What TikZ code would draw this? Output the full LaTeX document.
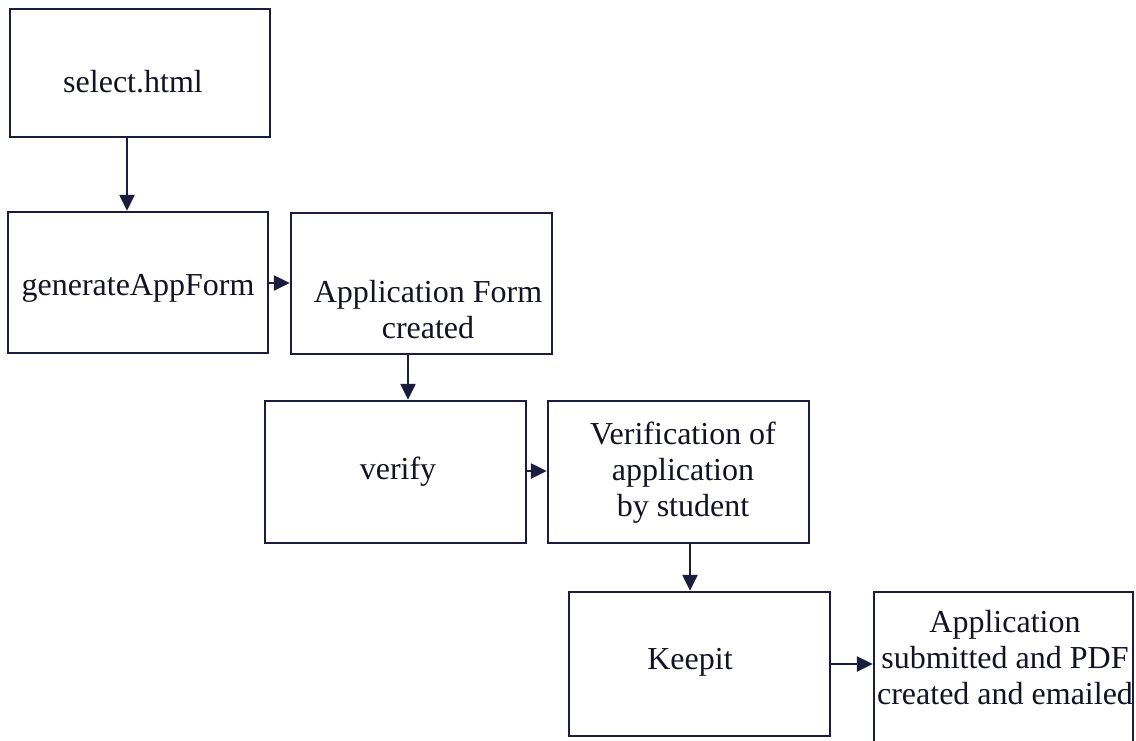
\documentclass[tikz,border=0pt]{standalone}
\usepackage{fontspec}
\setmainfont{Liberation Serif}
\usetikzlibrary{arrows.meta}
\definecolor{linecol}{RGB}{28,28,62}
\definecolor{txtcol}{RGB}{18,18,36}
\begin{document}
\begin{tikzpicture}[x=1pt,y=-1pt,
  box/.style={draw=linecol,line width=2.4pt,rectangle,inner sep=0pt,anchor=center},
  lbl/.style={text=txtcol,font=\fontsize{32}{36}\selectfont,align=center,inner sep=0pt,anchor=center},
  arr/.style={draw=linecol,line width=2.4pt,-{Triangle[length=16pt,width=15pt]}}]
\useasboundingbox[fill=white] (0,0) rectangle (1136,740);
% boxes
\node[box,minimum width=260pt,minimum height=128pt] (b1) at (140,73) {};
\node[box,minimum width=260pt,minimum height=141pt] (b2) at (138,282.5) {};
\node[box,minimum width=261pt,minimum height=141pt] (b3) at (421.5,283.5) {};
\node[box,minimum width=261pt,minimum height=142pt] (b4) at (395.5,472) {};
\node[box,minimum width=261pt,minimum height=142pt] (b5) at (678.5,472) {};
\node[box,minimum width=261pt,minimum height=144pt] (b6) at (699.5,664) {};
\node[box,minimum width=259pt,minimum height=158pt] (b7) at (1003.5,671) {};
% texts
\node[lbl] (t1) at (133,82) {select.html};
\node[lbl] (t2) at (138,288) {generateAppForm};
\node[lbl] (t3) at (428,310) {Application Form\\created};
\node[lbl] (t4) at (398,472) {verify};
\node[lbl] (t5) at (683,473) {Verification of\\application\\by student};
\node[lbl] (t6) at (690,662) {Keepit};
\node[lbl] (t7) at (1005,658) {Application\\submitted and PDF\\created and emailed};
% connectors
\draw[arr] ([xshift=-13pt]b1.south) -- ([xshift=-13pt]b1.south |- b2.north);
\draw[arr] ([yshift=-0.5pt]b2.east) -- ([yshift=-0.5pt]b2.east -| b3.west);
\draw[arr] ([xshift=-13.5pt]b3.south) -- ([xshift=-13.5pt]b3.south |- b4.north);
\draw[arr] ([yshift=1pt]b4.east) -- ([yshift=1pt]b4.east -| b5.west);
\draw[arr] ([xshift=11.5pt]b5.south) -- ([xshift=11.5pt]b5.south |- b6.north);
\draw[arr] (b6.east) -- (b6.east -| b7.west);
\end{tikzpicture}
\end{document}
